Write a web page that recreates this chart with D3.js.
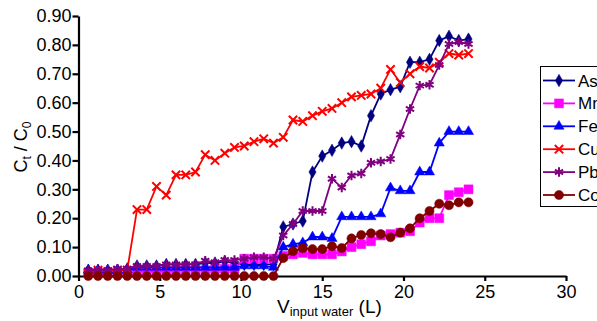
<!DOCTYPE html>
<html>
<head>
<meta charset="utf-8">
<script src="https://cdn.jsdelivr.net/npm/d3@7"></script>
<style>
  body { margin: 0; background: #fff; }
  svg { display: block; }
</style>
</head>
<body>
<div id="chart"></div>
<script>
// volume of input water (L)
const volume = [0.6, 1.2, 1.8, 2.4, 3.0, 3.6, 4.2, 4.8, 5.4, 6.0,
    6.6, 7.2, 7.8, 8.4, 9.0, 9.6, 10.2, 10.8, 11.4, 12.0,
    12.6, 13.2, 13.8, 14.4, 15.0, 15.6, 16.2, 16.8, 17.4, 18.0,
    18.6, 19.2, 19.8, 20.4, 21.0, 21.6, 22.2, 22.8, 23.4, 24.0];

const asValues = [0.02, 0.02, 0.02, 0.02, 0.025, 0.035, 0.035, 0.035, 0.04, 0.04,
    0.04, 0.04, 0.045, 0.045, 0.05, 0.045, 0.04, 0.04, 0.04, 0.04,
    0.17, 0.18, 0.19, 0.36, 0.415, 0.435, 0.46, 0.465, 0.45, 0.555,
    0.63, 0.645, 0.655, 0.74, 0.74, 0.75, 0.815, 0.83, 0.815, 0.82];
const mnValues = [0.01, 0.01, 0.01, 0.01, 0.01, 0.015, 0.015, 0.015, 0.015, 0.02,
    0.02, 0.02, 0.02, 0.025, 0.025, 0.025, 0.06, 0.06, 0.06, 0.06,
    0.07, 0.075, 0.08, 0.075, 0.075, 0.075, 0.085, 0.10, 0.11, 0.12,
    0.14, 0.145, 0.15, 0.155, 0.185, 0.20, 0.20, 0.28, 0.29, 0.30];
const feValues = [0.02, 0.02, 0.02, 0.02, 0.02, 0.03, 0.03, 0.03, 0.03, 0.03,
    0.03, 0.03, 0.03, 0.03, 0.03, 0.03, 0.035, 0.035, 0.035, 0.03,
    0.10, 0.11, 0.115, 0.135, 0.135, 0.13, 0.205, 0.205, 0.205, 0.205,
    0.215, 0.305, 0.295, 0.295, 0.36, 0.36, 0.46, 0.50, 0.50, 0.50];
const cuValues = [0.01, 0.02, 0.015, 0.02, 0.02, 0.23, 0.23, 0.31, 0.28, 0.35,
    0.35, 0.36, 0.42, 0.40, 0.425, 0.445, 0.45, 0.465, 0.475, 0.46,
    0.48, 0.54, 0.535, 0.555, 0.57, 0.58, 0.60, 0.62, 0.625, 0.63,
    0.65, 0.715, 0.67, 0.70, 0.725, 0.72, 0.74, 0.77, 0.765, 0.77];
const pbValues = [0.02, 0.02, 0.02, 0.025, 0.025, 0.035, 0.035, 0.035, 0.04, 0.04,
    0.041, 0.041, 0.053, 0.048, 0.055, 0.055, 0.06, 0.065, 0.065, 0.06,
    0.14, 0.18, 0.225, 0.225, 0.225, 0.337, 0.306, 0.348, 0.355, 0.392,
    0.396, 0.405, 0.49, 0.578, 0.659, 0.662, 0.73, 0.803, 0.81, 0.803];
const coValues = [0, 0, 0, 0, 0, 0, 0, 0, 0, 0,
    0, 0, 0, 0, 0, 0, 0, 0, 0, 0,
    0.062, 0.086, 0.096, 0.093, 0.093, 0.103, 0.097, 0.13, 0.142, 0.148,
    0.145, 0.134, 0.15, 0.165, 0.20, 0.225, 0.25, 0.245, 0.255, 0.255];

const seriesNames = ['As', 'Mn', 'Fe', 'Cu', 'Pb', 'Co'];
const xTicks = [0, 5, 10, 15, 20, 25, 30];
const yTicks = [0, 0.1, 0.2, 0.3, 0.4, 0.5, 0.6, 0.7, 0.8, 0.9];

const width = 597;
const height = 321;
const fontFamily = '"Liberation Sans", Arial, Helvetica, sans-serif';

// custom marker shapes
const crossSymbol = {
    draw(ctx, size) {
        const r = Math.sqrt(size) / 2;
        ctx.moveTo(-r, -r); ctx.lineTo(r, r);
        ctx.moveTo(-r, r); ctx.lineTo(r, -r);
    }
};
const starSymbol = {
    draw(ctx, size) {
        const r = Math.sqrt(size) / 2;
        for (let k = 0; k < 3; k++) {
            const a = Math.PI / 2 + k * Math.PI / 3;
            ctx.moveTo(-r * Math.cos(a), -r * Math.sin(a));
            ctx.lineTo(r * Math.cos(a), r * Math.sin(a));
        }
    }
};

const styles = {
    As: { color: '#000080', type: d3.symbolDiamond, size: 45, stroke: false },
    Mn: { color: '#ff00ff', type: d3.symbolSquare, size: 80, stroke: false },
    Fe: { color: '#0000ff', type: d3.symbolTriangle, size: 45, stroke: false },
    Cu: { color: '#ff0000', type: crossSymbol, size: 70, stroke: true },
    Pb: { color: '#800080', type: starSymbol, size: 90, stroke: true },
    Co: { color: '#800000', type: d3.symbolCircle, size: 66, stroke: false }
};

const seriesValues = {
    As: asValues, Mn: mnValues, Fe: feValues,
    Cu: cuValues, Pb: pbValues, Co: coValues
};

const xScale = d3.scaleLinear().domain([0, 30]).range([78.5, 566]);
const yScale = d3.scaleLinear().domain([0, 0.9]).range([276, 16]);

const svg = d3.select('#chart')
    .append('svg')
    .attr('width', width)
    .attr('height', height)
    .style('font-family', fontFamily);

// axes
const xAxis = svg.append('g')
    .attr('transform', `translate(0, ${yScale(0)})`)
    .call(d3.axisBottom(xScale).tickValues(xTicks).tickFormat(d3.format('d'))
        .tickSize(5).tickSizeOuter(0).tickPadding(4));
const yAxis = svg.append('g')
    .attr('transform', `translate(${xScale(0)}, 0)`)
    .call(d3.axisLeft(yScale).tickValues(yTicks).tickFormat(d3.format('.2f'))
        .tickSize(6).tickSizeOuter(0).tickPadding(1));

[xAxis, yAxis].forEach(ax => {
    ax.select('.domain').attr('stroke', '#000').attr('stroke-width', 2.2);
    ax.selectAll('.tick line').attr('stroke', '#000').attr('stroke-width', 2.2);
    ax.selectAll('.tick text')
        .attr('fill', '#000')
        .style('font-size', '18px')
        .style('font-family', fontFamily);
});

// series
const line = d3.line()
    .x((d, i) => xScale(volume[i]))
    .y(d => yScale(d));

seriesNames.forEach(name => {
    const st = styles[name];
    const values = seriesValues[name];
    const sg = svg.append('g').attr('class', 'series-' + name);

    sg.append('path')
        .datum(values)
        .attr('d', line)
        .attr('fill', 'none')
        .attr('stroke', st.color)
        .attr('stroke-width', 1.8);

    const sym = d3.symbol().type(st.type).size(st.size);
    sg.selectAll('.pt')
        .data(values)
        .join('path')
        .attr('class', 'pt')
        .attr('transform', (d, i) => `translate(${xScale(volume[i])},${yScale(d)})`)
        .attr('d', sym)
        .attr('fill', st.stroke ? 'none' : st.color)
        .attr('stroke', st.color)
        .attr('stroke-width', st.stroke ? 2 : 0.5);
});

// axis titles
svg.append('text')
    .attr('x', 277)
    .attr('y', 313)
    .attr('fill', '#000')
    .style('font-size', '19px')
    .call(t => {
        t.append('tspan').text('V');
        t.append('tspan').attr('dy', 3).style('font-size', '13px').text('input water');
        t.append('tspan').attr('dy', -3).text(' (L)');
    });

svg.append('text')
    .attr('transform', 'translate(27, 147) rotate(-90)')
    .attr('text-anchor', 'middle')
    .attr('fill', '#000')
    .style('font-size', '18px')
    .call(t => {
        t.append('tspan').text('C');
        t.append('tspan').attr('dy', 4).style('font-size', '12px').text('t');
        t.append('tspan').attr('dy', -4).text(' / C');
        t.append('tspan').attr('dy', 4).style('font-size', '12px').text('0');
    });

// legend (box runs past the right edge, as in the original)
const legend = svg.append('g');
legend.append('rect')
    .attr('x', 540.5)
    .attr('y', 66.5)
    .attr('width', 80)
    .attr('height', 140)
    .attr('fill', '#fff')
    .attr('stroke', '#000')
    .attr('stroke-width', 1);

seriesNames.forEach((name, i) => {
    const st = styles[name];
    const y = 80.5 + i * 22.9;
    const item = legend.append('g');
    item.append('line')
        .attr('x1', 543).attr('x2', 575)
        .attr('y1', y).attr('y2', y)
        .attr('stroke', st.color)
        .attr('stroke-width', 1.8);
    item.append('path')
        .attr('transform', `translate(559,${y})`)
        .attr('d', d3.symbol().type(st.type).size(st.size))
        .attr('fill', st.stroke ? 'none' : st.color)
        .attr('stroke', st.color)
        .attr('stroke-width', st.stroke ? 2 : 0.5);
    item.append('text')
        .attr('x', 578)
        .attr('y', y + 6)
        .attr('fill', '#000')
        .style('font-size', '17px')
        .text(name);
});
</script>
</body>
</html>
